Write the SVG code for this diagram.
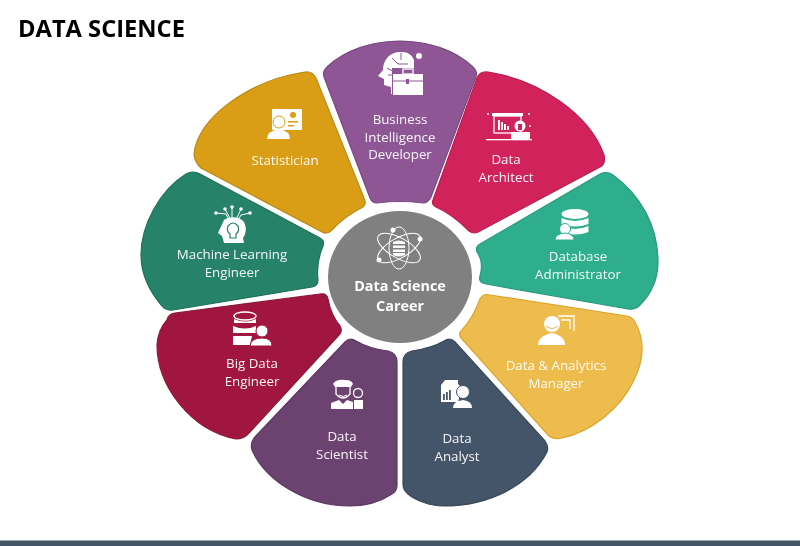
<svg xmlns="http://www.w3.org/2000/svg" width="800" height="546" viewBox="0 0 800 546">
<style>
text{font-family:"Open Sans","Liberation Sans",sans-serif;fill:#fff;text-anchor:middle}
.lb{font-size:13.3px;font-weight:500;opacity:.94}
.cl{font-size:14.4px;font-weight:700}
.ic{fill:#fff;stroke:none}
.il{fill:none;stroke:#fff;stroke-width:1.3}
.p{stroke-width:1.2}
</style>
<defs><filter id="soft" x="0" y="0" width="100%" height="100%"><feGaussianBlur stdDeviation="0.4"/></filter></defs>
<rect width="800" height="546" fill="#fff"/>
<g filter="url(#soft)">
<text x="18" y="37" style="fill:#000;text-anchor:start;font-size:23px;font-weight:700" textLength="167" lengthAdjust="spacingAndGlyphs">DATA SCIENCE</text>
<rect y="540" width="800" height="1" fill="#a3a9b2"/>
<rect y="541" width="800" height="5" fill="#445469"/>
<g id="bi-developer">
<path class="p" fill="#8E5794" stroke="#7a4a80" d="M324 77Q322 72 327 67C345 50 372 41 400 41C428 41 455 50 473 67Q478 72 476 77L431 197Q428 203 423 203Q400 200 377 203Q372 203 370 198Z"/>
<path class="ic" d="M391 94V87L384 85L384 79L378 76L383 70C383 58 392 51 402 52C408 52 412 55 414 60L414 68H392V94Z"/>
<path fill="none" stroke="#8E5794" stroke-width="1" d="M387 68L394 72V84M392 58L398 64H408M401 53V60M388 75H392"/>
<rect class="ic" x="393" y="74" width="30" height="21"/><rect class="il" x="403" y="69" width="10" height="5"/>
<path fill="none" stroke="#8E5794" stroke-width="1" d="M393 81H423"/><rect x="406" y="79" width="3" height="5" fill="#8E5794"/>
<circle class="ic" cx="419" cy="56" r="3"/>
<text class="lb" x="400" y="124">Business</text><text class="lb" x="400" y="141.500">Intelligence</text><text class="lb" x="400" y="159">Developer</text>
</g>
<g id="data-architect">
<path class="p" fill="#D2245C" stroke="#b81f50" d="M433 200L477 78Q480 71 488 72C540 80 590 115 604 155Q606 164 600 167L480 231Q474 235 469 231Q452 214 436 207Q431 204 433 200Z"/>
<rect class="il" x="494" y="116" width="27" height="17"/><rect class="ic" x="492" y="113" width="31" height="3"/>
<rect class="ic" x="498" y="120" width="2" height="10"/><rect class="ic" x="501" y="122" width="2" height="8"/><rect class="ic" x="504" y="124" width="2" height="6"/><rect class="ic" x="507" y="126" width="2" height="4"/>
<circle class="ic" cx="520" cy="126" r="5.500"/><rect x="518" y="124" width="4" height="6" fill="#D2245C"/><rect class="ic" x="511" y="132" width="19" height="7"/><rect class="ic" x="486" y="139" width="46" height="1.300"/>
<circle class="ic" cx="488" cy="114" r="1"/><circle class="ic" cx="529" cy="114" r="1"/><circle class="ic" cx="530" cy="126" r="1"/>
<text class="lb" x="506" y="164">Data</text><text class="lb" x="506" y="181.500">Architect</text>
</g>
<g id="database-administrator">
<path class="p" fill="#2EAE8D" stroke="#289a7d" d="M480 244L600 174Q607 171 613 175C640 195 658 225 658 262C658 280 650 295 640 305Q635 310 628 309L486 284Q478 283 480 276Q484 262 477 252Q475 247 480 244Z"/>
<ellipse class="ic" cx="575" cy="214" rx="13.500" ry="5"/><path class="ic" d="M561.500 218Q575 224 588.500 218V224Q575 229 561.500 224Z"/><path class="ic" d="M561.500 226Q575 232 588.500 226V232Q575 237 561.500 232Z"/>
<circle class="ic" cx="565" cy="229" r="5.500" style="stroke:#2EAE8D"/><path class="ic" d="M555 240Q555 234 565 233Q574 234 574 240Z" style="stroke:#2EAE8D"/>
<text class="lb" x="578" y="261">Database</text><text class="lb" x="578" y="278.500">Administrator</text>
</g>
<g id="analytics-manager">
<path class="p" fill="#EEBC4E" stroke="#dba52a" d="M480 299Q483 293 490 295L627 316Q632 317 635 322C645 340 644 360 634 380C620 410 590 432 562 438Q553 440 548 435L462 339Q457 334 462 330Q473 318 480 299Z"/>
<path class="il" d="M558 316H574V331M561 320H570V329"/>
<circle class="ic" cx="552" cy="324" r="8"/><path fill="none" stroke="#EEBC4E" d="M546 326Q552 331 558 326"/><path class="ic" d="M538 345Q538 336 552 333Q565 336 565 345Z"/>
<text class="lb" x="556" y="370">Data &amp; Analytics</text><text class="lb" x="556" y="387.500">Manager</text>
</g>
<g id="data-analyst">
<path class="p" fill="#445469" stroke="#3a485a" d="M403 362Q403 353 412 351Q432 348 444 341Q450 337 455 342L545 441Q549 446 547 452C530 485 490 506 443 506C430 506 415 500 408 494Q403 490 403 484Z"/>
<path class="ic" d="M445 380H458V384L462 388L458 402H441V385Z"/>
<rect x="443" y="394" width="1.800" height="6" fill="#445469"/><rect x="446" y="392" width="1.800" height="8" fill="#445469"/><rect x="449" y="390" width="1.800" height="10" fill="#445469"/>
<circle class="ic" cx="463" cy="392" r="6.500" style="stroke:#445469"/><path class="ic" d="M453 408Q453 401 463 400Q472 401 472 408Z"/>
<text class="lb" x="457" y="443">Data</text><text class="lb" x="457" y="460.500">Analyst</text>
</g>
<g id="data-scientist">
<path class="p" fill="#6C4270" stroke="#5c3860" d="M345 342Q350 337 356 341Q370 349 388 351Q397 353 397 362L397 485Q397 491 392 494C380 502 365 506 350 506C305 506 265 480 252 450Q250 443 254 438Z"/>
<path class="ic" d="M333 384Q336 379 345 380Q352 380 353 384L351 387H335Z"/>
<path class="il" d="M336 387V394Q343 402 350 394V387"/><path class="il" d="M339 395Q343 398 347 395" style="stroke-width:1"/>
<path class="ic" d="M331 409V403L339 400L343 404L347 400L353 402V409Z"/><circle class="il" cx="358" cy="393" r="4.500"/><rect class="ic" x="354" y="400" width="9" height="9"/>
<text class="lb" x="342" y="441">Data</text><text class="lb" x="342" y="458.500">Scientist</text>
</g>
<g id="big-data-engineer">
<path class="p" fill="#A0183F" stroke="#8c1537" d="M167 320Q168 314 175 313L320 294Q327 293 328 299Q331 315 340 326Q343 331 339 335L250 432Q244 439 236 439C190 430 157 385 157 345Q158 330 167 320Z"/>
<ellipse class="il" cx="245" cy="316" rx="11" ry="4"/><path class="ic" d="M234 319Q245 324 256 319V323H234ZM233 326Q245 331 256 326V333H233ZM233 336H252L250 345H233Z"/>
<circle class="ic" cx="262" cy="331" r="6" style="stroke:#A0183F"/><path class="ic" d="M250 346Q251 338 262 338Q272 338 272 346Z" style="stroke:#A0183F"/>
<text class="lb" x="252" y="368">Big Data</text><text class="lb" x="252" y="385.500">Engineer</text>
</g>
<g id="machine-learning-engineer">
<path class="p" fill="#268268" stroke="#217259" d="M186 174Q193 170 200 174L320 238Q325 241 323 246Q316 262 318 280Q318 286 312 287L173 310Q166 311 162 306C150 292 141 275 141 255C141 225 160 190 186 174Z"/>
<path class="ic" d="M224 220C230 216 240 216 244 222C247 228 246 234 243 238L244 243H224L222 236L218 233Z"/>
<path fill="none" stroke="#268268" stroke-width="1.200" d="M228 226Q233 220 238 226Q240 231 236 234V238H230V234Q226 231 228 226Z"/>
<path class="il" style="stroke-width:1" d="M216 213L226 214L230 222M225 209L232 222M232 207V222M241 209L235 222M250 213L241 215L237 222"/>
<circle class="ic" cx="216" cy="213" r="1.800"/><circle class="ic" cx="225" cy="209" r="1.800"/><circle class="ic" cx="232" cy="207" r="1.800"/><circle class="ic" cx="241" cy="209" r="1.800"/><circle class="ic" cx="250" cy="213" r="1.800"/>
<text class="lb" x="232" y="259">Machine Learning</text><text class="lb" x="232" y="276.500">Engineer</text>
</g>
<g id="statistician">
<path class="p" fill="#D99E15" stroke="#b98a18" d="M305 72Q312 71 316 78L364 198Q367 204 363 207Q345 216 332 230Q327 235 322 232L201 168Q195 163 194 155C196 118 250 80 305 72Z"/>
<rect class="ic" x="272" y="109" width="30" height="21" rx="1"/><circle cx="279" cy="122" r="6" fill="#fff" stroke="#D99E15"/><path class="ic" d="M267 139Q267 131 279 129Q290 131 290 139Z"/>
<circle cx="293" cy="115" r="3" fill="#D99E15"/><rect x="288" y="121" width="10" height="1.500" fill="#D99E15"/><rect x="288" y="125" width="6" height="1.500" fill="#D99E15"/>
<text class="lb" x="285" y="165">Statistician</text>
</g>
<g id="center">
<ellipse cx="400" cy="277" rx="72" ry="66" fill="#808080"/>
<g class="il" style="stroke-width:1"><ellipse cx="399" cy="248" rx="24" ry="10" transform="rotate(30 399 248)"/><ellipse cx="399" cy="248" rx="24" ry="10" transform="rotate(-30 399 248)"/><ellipse cx="399" cy="248" rx="10" ry="21"/></g>
<circle class="ic" cx="393" cy="230" r="2.500"/><circle class="ic" cx="420" cy="239" r="2.500"/><circle class="ic" cx="379" cy="260" r="2.500"/>
<rect x="392" y="240" width="14" height="16" rx="4" fill="#808080"/><path class="ic" d="M393 242Q399 239 405 242V244H393ZM393 245.500H405V248H393ZM393 249.500H405V252H393ZM393 253H405V255Q399 258 393 255Z"/>
<text class="cl" x="400" y="290.500">Data Science</text><text class="cl" x="400" y="310.500">Career</text>
</g>
</g>
</svg>
